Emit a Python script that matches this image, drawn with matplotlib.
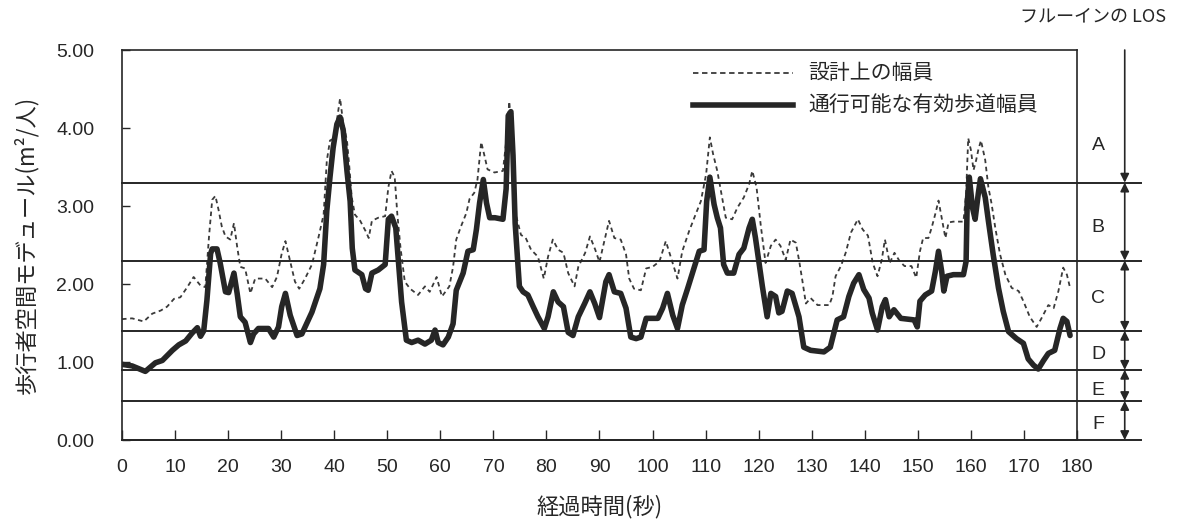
import matplotlib
matplotlib.use("Agg")
import matplotlib.pyplot as plt

plt.rcParams["font.family"] = ["Noto Sans CJK JP", "DejaVu Sans"]

# 通行可能な有効歩道幅員 (thick solid)
eff_t = [0, 1.9, 4.4, 6.3, 7.6, 9.5, 10.7, 12, 13.2, 14.2, 14.8, 15.4, 16, 16.7, 17, 17.9,
         18.5, 19.5, 20.1, 21.1, 21.7, 22.3, 23.2, 24.2, 24.8, 25.7, 27.6, 28.6, 29.5, 30.1,
         30.8, 31.7, 33, 33.9, 35.8, 37.3, 38, 38.6, 39.2, 39.8, 40.5, 41.1, 41.7, 42.4, 43,
         43.4, 43.9, 45.2, 45.9, 46.4, 47.1, 48.3, 49.6, 50.2, 50.8, 51.6, 52.1, 52.7, 53.6,
         54.6, 55.8, 57.1, 58.3, 59, 59.6, 60.5, 61.5, 62.4, 63, 64.3, 65.2, 66.2, 66.8, 67.4,
         68.1, 68.7, 69.3, 70.3, 71.8, 72.4, 72.8, 73.3, 73.7, 74.1, 74.6, 74.9, 75.6, 76.5,
         77.5, 78.4, 79.6, 80.3, 81.3, 82.2, 83.2, 84.1, 85, 86, 87.2, 88.2, 89.1, 90, 91.2,
         91.8, 92.8, 94, 95, 95.9, 96.9, 97.8, 98.8, 99.7, 101, 101.9, 102.8, 103.8, 104.7,
         105.6, 106.6, 107.8, 108.8, 109.7, 110.2, 110.8, 111.6, 112.2, 112.8, 113.4, 114.1,
         115.3, 116.3, 117.2, 118.2, 118.8, 119.4, 120, 120.7, 121.6, 122.3, 123.2, 123.8,
         124.4, 125.4, 126.3, 127.6, 128.5, 129.8, 132.3, 133.5, 134.8, 136, 137, 137.9,
         138.9, 139.8, 140.8, 141.4, 142.4, 143.3, 143.9, 144.6, 145.5, 146.8, 149.3, 149.9,
         150.4, 151.4, 152.6, 153.3, 153.9, 154.5, 154.9, 155.5, 156.7, 158.6, 159.1, 159.3,
         159.7, 160.3, 160.8, 161.4, 161.8, 162.7, 163.3, 164.2, 165.2, 166.1, 167.1, 168.6,
         169.9, 170.8, 171.8, 172.7, 173.7, 174.6, 175.8, 176.8, 177.4, 178.1, 178.7]
eff_v = [0.97, 0.95, 0.88, 0.99, 1.02, 1.15, 1.22, 1.27, 1.37, 1.44, 1.33, 1.40, 1.79, 2.39,
         2.45, 2.45, 2.27, 1.90, 1.89, 2.14, 1.88, 1.58, 1.51, 1.25, 1.36, 1.43, 1.43, 1.32,
         1.45, 1.71, 1.88, 1.60, 1.34, 1.36, 1.64, 1.94, 2.25, 2.94, 3.37, 3.75, 4.05, 4.14,
         3.97, 3.45, 3.06, 2.46, 2.18, 2.12, 1.94, 1.92, 2.14, 2.18, 2.25, 2.83, 2.87, 2.72,
         2.29, 1.77, 1.28, 1.25, 1.28, 1.23, 1.28, 1.41, 1.25, 1.22, 1.32, 1.49, 1.92, 2.14,
         2.42, 2.44, 2.70, 3.04, 3.34, 3.04, 2.85, 2.85, 2.83, 3.22, 4.16, 4.21, 3.65, 2.78,
         2.27, 1.97, 1.90, 1.86, 1.71, 1.58, 1.43, 1.58, 1.90, 1.77, 1.71, 1.38, 1.34, 1.58,
         1.75, 1.90, 1.75, 1.57, 2.03, 2.12, 1.90, 1.88, 1.69, 1.32, 1.30, 1.32, 1.56, 1.56,
         1.56, 1.69, 1.88, 1.60, 1.43, 1.73, 1.94, 2.20, 2.42, 2.44, 3.06, 3.37, 3.02, 2.85,
         2.72, 2.25, 2.14, 2.14, 2.38, 2.46, 2.72, 2.83, 2.59, 2.30, 1.97, 1.58, 1.88, 1.84,
         1.63, 1.65, 1.91, 1.88, 1.58, 1.19, 1.15, 1.13, 1.19, 1.54, 1.58, 1.84, 2.01, 2.12,
         1.93, 1.82, 1.63, 1.41, 1.71, 1.80, 1.58, 1.67, 1.56, 1.54, 1.45, 1.78, 1.86, 1.91,
         2.16, 2.42, 2.16, 1.91, 2.10, 2.12, 2.12, 2.29, 3.03, 3.37, 2.98, 2.83, 3.16, 3.35,
         3.11, 2.81, 2.38, 1.95, 1.65, 1.39, 1.30, 1.24, 1.04, 0.96, 0.91, 1.02, 1.11, 1.15,
         1.43, 1.56, 1.52, 1.34]

# 設計上の幅員 (thin dashed)
des_t = [0, 1.9, 4.1, 5.7, 7.3, 8.5, 9.8, 11, 12.3, 13.5, 14.8, 15.7, 16.4, 17, 17.6, 18.2,
         18.8, 19.5, 20.4, 21.1, 21.7, 22.3, 23.2, 24.2, 25.1, 27, 28.3, 29.2, 30.1, 30.8,
         31.7, 32.6, 33.4, 34.5, 35.8, 37, 38, 38.6, 39.2, 39.8, 40.5, 41.1, 41.7, 42.4, 42.8,
         43.3, 43.9, 44.9, 45.9, 46.5, 47.1, 48.3, 49.6, 50.2, 50.8, 51.4, 51.9, 52.5, 53.3,
         54.3, 55.8, 57.1, 58, 59.3, 60.3, 61.7, 62.4, 63, 63.9, 64.9, 65.5, 66.4, 67, 67.7,
         68.3, 68.9, 70.2, 71.8, 72.4, 73, 73.7, 74.3, 75.2, 76.1, 77.1, 78.4, 79.5, 80.3,
         81.2, 82.2, 83.2, 84.1, 85.3, 86, 87.3, 88.2, 89.2, 90, 90.6, 91.8, 92.8, 94, 95,
         95.6, 96.5, 97.8, 98.8, 100, 101.3, 102.5, 103.5, 104.7, 105.6, 106.9, 108.1, 109.1,
         110.1, 110.8, 111.4, 112.2, 113.1, 113.8, 115, 116, 117.2, 118.2, 118.8, 119.6,
         120.4, 121.3, 122.3, 123.2, 124.1, 125.1, 126, 127, 127.6, 128.2, 128.9, 129.8,
         131.1, 133.3, 133.9, 134.5, 135.5, 136.4, 137.4, 138.7, 139.6, 140.6, 141.5, 142.4,
         143.2, 143.8, 144.7, 145.6, 146.6, 147.5, 148.8, 149.7, 150.4, 151, 152, 152.6,
         153.3, 153.9, 154.5, 155.2, 155.8, 156.7, 158.6, 159.1, 159.5, 160, 160.5, 161,
         161.4, 161.9, 162.7, 163.3, 163.9, 164.6, 165.5, 166.5, 167.7, 169, 169.9, 171.1,
         172.4, 173.3, 174.6, 175.6, 176.5, 177.4, 178.1, 178.7]
des_v = [1.55, 1.56, 1.52, 1.62, 1.66, 1.71, 1.81, 1.83, 1.96, 2.09, 1.98, 1.96, 2.61, 3.08,
         3.13, 2.95, 2.74, 2.61, 2.57, 2.78, 2.48, 2.22, 2.20, 1.88, 2.07, 2.07, 1.96, 2.09,
         2.39, 2.55, 2.29, 2.03, 1.94, 2.07, 2.25, 2.59, 2.89, 3.58, 3.84, 3.86, 4.10, 4.38,
         4.06, 3.84, 3.54, 3.11, 2.89, 2.81, 2.68, 2.59, 2.81, 2.85, 2.87, 3.24, 3.45, 3.37,
         2.89, 2.46, 2.03, 1.94, 1.86, 1.97, 1.90, 2.09, 1.84, 1.97, 2.22, 2.57, 2.74, 2.91,
         3.09, 3.17, 3.34, 3.82, 3.65, 3.47, 3.43, 3.45, 3.82, 4.34, 3.65, 2.87, 2.63, 2.59,
         2.44, 2.35, 2.07, 2.35, 2.57, 2.44, 2.40, 2.14, 1.97, 2.22, 2.40, 2.61, 2.44, 2.28,
         2.46, 2.81, 2.59, 2.57, 2.38, 2.07, 1.94, 1.92, 2.20, 2.22, 2.29, 2.55, 2.33, 2.07,
         2.42, 2.68, 2.89, 3.06, 3.41, 3.88, 3.67, 3.45, 3.11, 2.85, 2.83, 2.98, 3.11, 3.28,
         3.45, 3.24, 2.75, 2.27, 2.49, 2.57, 2.49, 2.31, 2.57, 2.53, 2.31, 2.06, 1.75, 1.82,
         1.73, 1.73, 1.84, 2.10, 2.23, 2.40, 2.66, 2.83, 2.70, 2.62, 2.27, 2.10, 2.31, 2.57,
         2.27, 2.40, 2.29, 2.23, 2.23, 2.08, 2.42, 2.59, 2.59, 2.72, 2.90, 3.07, 2.85, 2.59,
         2.79, 2.80, 2.80, 3.16, 3.87, 3.72, 3.46, 3.59, 3.72, 3.84, 3.59, 3.24, 3.03, 2.72,
         2.38, 2.12, 1.95, 1.91, 1.78, 1.58, 1.45, 1.56, 1.73, 1.69, 1.91, 2.21, 2.12, 1.95]

# Fruin LOS boundaries (m2/person)
los_bounds = [3.3, 2.3, 1.4, 0.9, 0.5]
los_letters = ["A", "B", "C", "D", "E", "F"]
los_edges = [5.0, 3.3, 2.3, 1.4, 0.9, 0.5, 0.0]
los_letter_y = [3.78, 2.72, 1.82, 1.10, 0.64, 0.20]

x_ticks = list(range(0, 190, 10))
y_ticks = [0, 1, 2, 3, 4, 5]

ink = "#262626"
num_font = ["Liberation Sans", "DejaVu Sans"]

fig = plt.figure(figsize=(11.8, 5.2), dpi=100)
ax = fig.add_axes([0.1034, 0.1538, 0.8093, 0.75])

ax.plot(des_t, des_v, color="#3a3a3a", lw=1.3, ls=(0, (2.5, 2.0)))
ax.plot(eff_t, eff_v, color=ink, lw=4.0, solid_joinstyle="round", solid_capstyle="round")

# LOS boundary lines, running past the right frame
x_ext = 192
for b in los_bounds + [0.0]:
    ax.plot([0, x_ext], [b, b], color=ink, lw=1.4, clip_on=False)

# arrows and letters on the right
x_arr = 189
for i, let in enumerate(los_letters):
    top, bot = los_edges[i], los_edges[i + 1]
    style = "-|>" if i == 0 else "<|-|>"
    ax.annotate("", xy=(x_arr, bot), xytext=(x_arr, top),
                arrowprops=dict(arrowstyle=style, color=ink, lw=1.2,
                                mutation_scale=13, shrinkA=0, shrinkB=0),
                annotation_clip=False)
    ax.text(184, los_letter_y[i], let, fontsize=14, color=ink,
            ha="center", va="center", family=num_font)

ax.set_xlim(0, 180)
ax.set_ylim(0, 5)
ax.set_xticks(x_ticks)
ax.set_xticklabels([str(v) for v in x_ticks], family=num_font)
ax.set_yticks(y_ticks)
ax.set_yticklabels([f"{v:.2f}" for v in y_ticks], family=num_font)
ax.tick_params(axis="x", direction="in", length=7, width=1, pad=14, labelsize=14,
               colors=ink)
ax.tick_params(axis="y", direction="in", length=6, width=1, pad=20, labelsize=14,
               colors=ink)
for s in ax.spines.values():
    s.set_color(ink)
    s.set_linewidth(1.2)

ax.set_xlabel("経過時間(秒)", fontsize=16, color=ink, labelpad=13)
ax.set_ylabel("歩行者空間モデュール(m²/人)", fontsize=16, color=ink)
ax.yaxis.set_label_coords(-0.088, 0.5)

# legend drawn by hand
ax.plot([0.598, 0.703], [0.941, 0.941], transform=ax.transAxes, color="#3a3a3a",
        lw=1.3, ls=(0, (3.0, 2.0)))
ax.plot([0.598, 0.703], [0.859, 0.859], transform=ax.transAxes, color=ink, lw=4.0)
ax.text(0.719, 0.941, "設計上の幅員", transform=ax.transAxes, fontsize=15,
        color=ink, va="center")
ax.text(0.719, 0.859, "通行可能な有効歩道幅員", transform=ax.transAxes, fontsize=15,
        color=ink, va="center")

fig.text(0.864, 0.968, "フルーインの LOS", fontsize=13, color=ink, va="center")

fig.savefig("out.png", dpi=100, facecolor="white")
